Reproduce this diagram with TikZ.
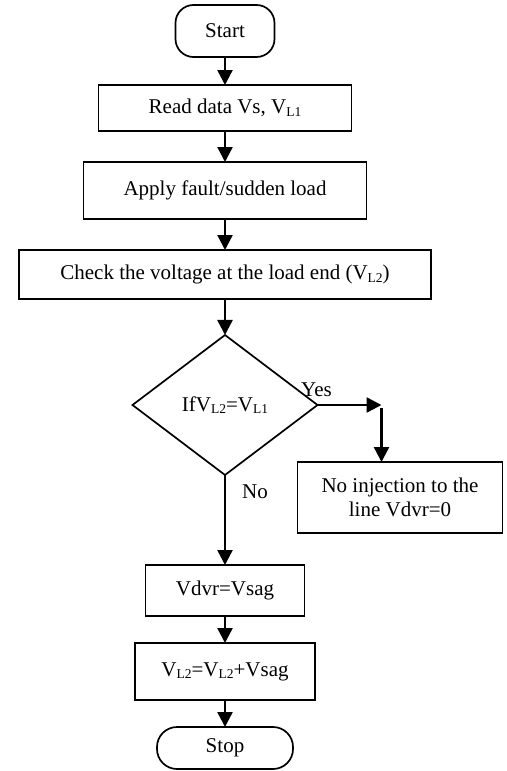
\documentclass[tikz,border=0pt]{standalone}
\usepackage{fontspec}
\setmainfont{Liberation Serif}
\usetikzlibrary{arrows.meta,positioning,shapes.geometric}
\newcommand{\lsub}[1]{\raisebox{-2.5pt}{\fontsize{13.5}{14}\selectfont #1}}

\begin{document}
\begin{tikzpicture}[x=1pt, y=1pt, font=\fontsize{21}{24}\selectfont, every node/.style={align=center}, box/.style={draw, line width=1.7pt, inner sep=0pt, outer sep=0pt}, term/.style={draw, line width=1.7pt, rounded corners=18pt, inner sep=0pt, outer sep=0pt}, decision/.style={draw, diamond, line width=1.7pt, inner sep=0pt, outer sep=0pt, minimum width=185pt, minimum height=140pt}, arrow/.style={-{Triangle[length=15pt, width=15pt]}, line width=2.4pt}]
\useasboundingbox (0,0) rectangle (506,-771);
\node[term, minimum width=99pt, minimum height=52pt] (start) at (225,-31) {Start};
\node[box, below=28pt of start, minimum width=253pt, minimum height=46pt] (read) {Read data Vs, V\lsub{L1}};
\node[box, below=31pt of read, minimum width=283pt, minimum height=57pt] (fault) {Apply fault/sudden load};
\node[box, below=31pt of fault, minimum width=412pt, minimum height=49pt] (check) {Check the voltage at the load end (V\lsub{L2})};
\node[decision, below=36pt of check] (compare) {IfV\lsub{L2}=V\lsub{L1}};
\coordinate[right=64pt of compare.east] (yes);
\node[box, below=57pt of yes, xshift=18.5pt, minimum width=205pt, minimum height=71pt] (noinj) {No injection to the\\line Vdvr=0};
\node[box, below=90pt of compare, minimum width=159pt, minimum height=51pt] (inject) {Vdvr=Vsag};
\node[box, below=27pt of inject, minimum width=180pt, minimum height=57pt] (update) {V\lsub{L2}=V\lsub{L2}+Vsag};
\node[term, below=27pt of update, minimum width=136pt, minimum height=42pt, rounded corners=20pt] (stop) {Stop};
\draw[arrow] (start) -- (read);
\draw[arrow] (read) -- (fault);
\draw[arrow] (fault) -- (check);
\draw[arrow] (check) -- (compare);
\draw[arrow] (compare.east) -- node[pos=0, anchor=south west, xshift=-17.5pt, yshift=7pt, inner sep=0pt]{Yes} (yes);
\draw[arrow] ([yshift=-3pt]yes) -- (noinj.north -| yes);
\draw[arrow] (compare) -- node[pos=0.19, anchor=west, xshift=16pt, inner sep=0pt]{No} (inject);
\draw[arrow] (inject) -- (update);
\draw[arrow] (update) -- (stop);
\end{tikzpicture}
\end{document}
